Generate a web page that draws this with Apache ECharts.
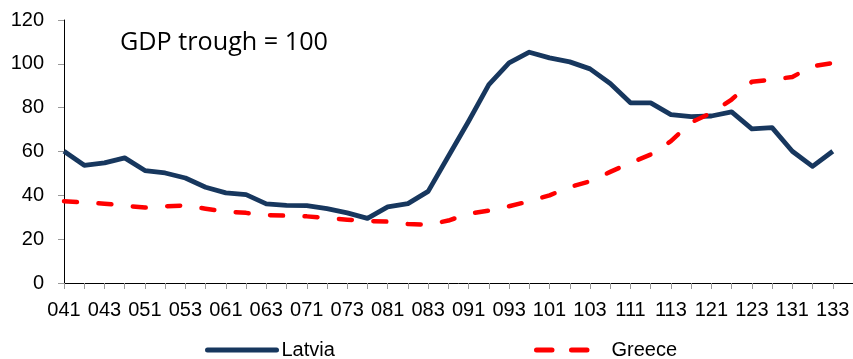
<!DOCTYPE html>
<html>
<head>
<meta charset="utf-8">
<script src="https://cdn.jsdelivr.net/npm/echarts@6/dist/echarts.min.js"></script>
<style>
  html, body { margin: 0; padding: 0; background: #fff; }
  #chart { width: 853px; height: 359px; }
</style>
</head>
<body>
<div id="chart"></div>
<script>
// Quarters: yy + quarter number (2004 Q1 .. 2013 Q4)
const quarters = [
  '041','042','043','044','051','052','053','054','061','062',
  '063','064','071','072','073','074','081','082','083','084',
  '091','092','093','094','101','102','103','104','111','112',
  '113','114','121','122','123','124','131','132','133','134'
];

// Index, GDP trough = 100
const latvia = [
  60.1, 53.7, 54.8, 57.1, 51.3, 50.2, 47.9, 43.7, 41.1, 40.3,
  36.1, 35.4, 35.3, 33.9, 32.0, 29.5, 34.7, 36.2, 41.8, 57.8,
  73.8, 90.5, 100.4, 105.3, 102.7, 100.9, 97.7, 91.0, 82.2, 82.2,
  76.8, 75.9, 76.2, 78.1, 70.3, 70.9, 60.1, 53.2, 60.1, null
];

const greece = [
  37.3, 36.7, 36.2, 35.3, 34.4, 35.0, 35.4, 33.9, 32.6, 32.0,
  31.0, 30.7, 30.4, 29.7, 28.9, 28.3, 28.0, 26.9, 26.6, 28.5,
  31.6, 33.0, 35.0, 37.3, 40.0, 43.8, 46.4, 50.7, 54.8, 58.6,
  64.7, 73.3, 77.6, 83.7, 91.8, 92.8, 94.0, 98.9, 100.4, null
];

const yTicks = { min: 0, max: 120, interval: 20 };

const navy = '#17375E';
const red = '#FF0000';
const font = "'Liberation Sans', Arial, sans-serif";

const chart = echarts.init(document.getElementById('chart'), null, { renderer: 'canvas' });

chart.setOption({
  animation: false,
  backgroundColor: '#ffffff',
  title: {
    text: 'GDP trough = 100',
    left: 120,
    top: 30,
    padding: 0,
    textStyle: {
      fontFamily: "'Open Sans', sans-serif",
      fontSize: 25.2,
      fontWeight: 'normal',
      color: '#000'
    }
  },
  grid: { left: 64, right: -2, top: 20, bottom: 76, containLabel: false },
  xAxis: {
    type: 'category',
    data: quarters,
    boundaryGap: false,
    axisLine: { lineStyle: { color: '#000', width: 1 } },
    axisTick: { show: true, interval: 0, length: 6, lineStyle: { color: '#999' } },
    axisLabel: {
      interval: 1,
      margin: 17,
      fontFamily: font,
      fontSize: 20,
      color: '#000'
    },
    splitLine: { show: false }
  },
  yAxis: {
    type: 'value',
    min: yTicks.min,
    max: yTicks.max,
    interval: yTicks.interval,
    axisLine: { show: true, lineStyle: { color: '#000', width: 1 } },
    axisTick: { show: true, length: 6, lineStyle: { color: '#999' } },
    axisLabel: {
      margin: 20,
      fontFamily: font,
      fontSize: 20,
      color: '#000'
    },
    splitLine: { show: false }
  },
  legend: [
    {
      data: ['Latvia'],
      left: 205,
      top: 340,
      itemWidth: 69,
      itemHeight: 14,
      padding: 0,
      itemStyle: { opacity: 0 },
      lineStyle: { width: 5, cap: 'round' },
      textStyle: { fontFamily: font, fontSize: 20, color: '#000', padding: [0, 0, 0, 0] }
    },
    {
      data: ['Greece'],
      left: 534,
      top: 340,
      itemWidth: 51,
      itemHeight: 14,
      padding: 0,
      itemStyle: { opacity: 0 },
      lineStyle: { width: 5, cap: 'round', type: [15.5, 19.5] },
      textStyle: { fontFamily: font, fontSize: 20, color: '#000', padding: [0, 0, 0, 19] }
    }
  ],
  series: [
    {
      name: 'Latvia',
      type: 'line',
      data: latvia,
      symbol: 'none',
      color: navy,
      lineStyle: { color: navy, width: 4.8, join: 'round' }
    },
    {
      name: 'Greece',
      type: 'line',
      data: greece,
      symbol: 'none',
      color: red,
      lineStyle: { color: red, width: 4.5, type: [13, 21.5], cap: 'round', join: 'round' }
    }
  ]
});
</script>
</body>
</html>
